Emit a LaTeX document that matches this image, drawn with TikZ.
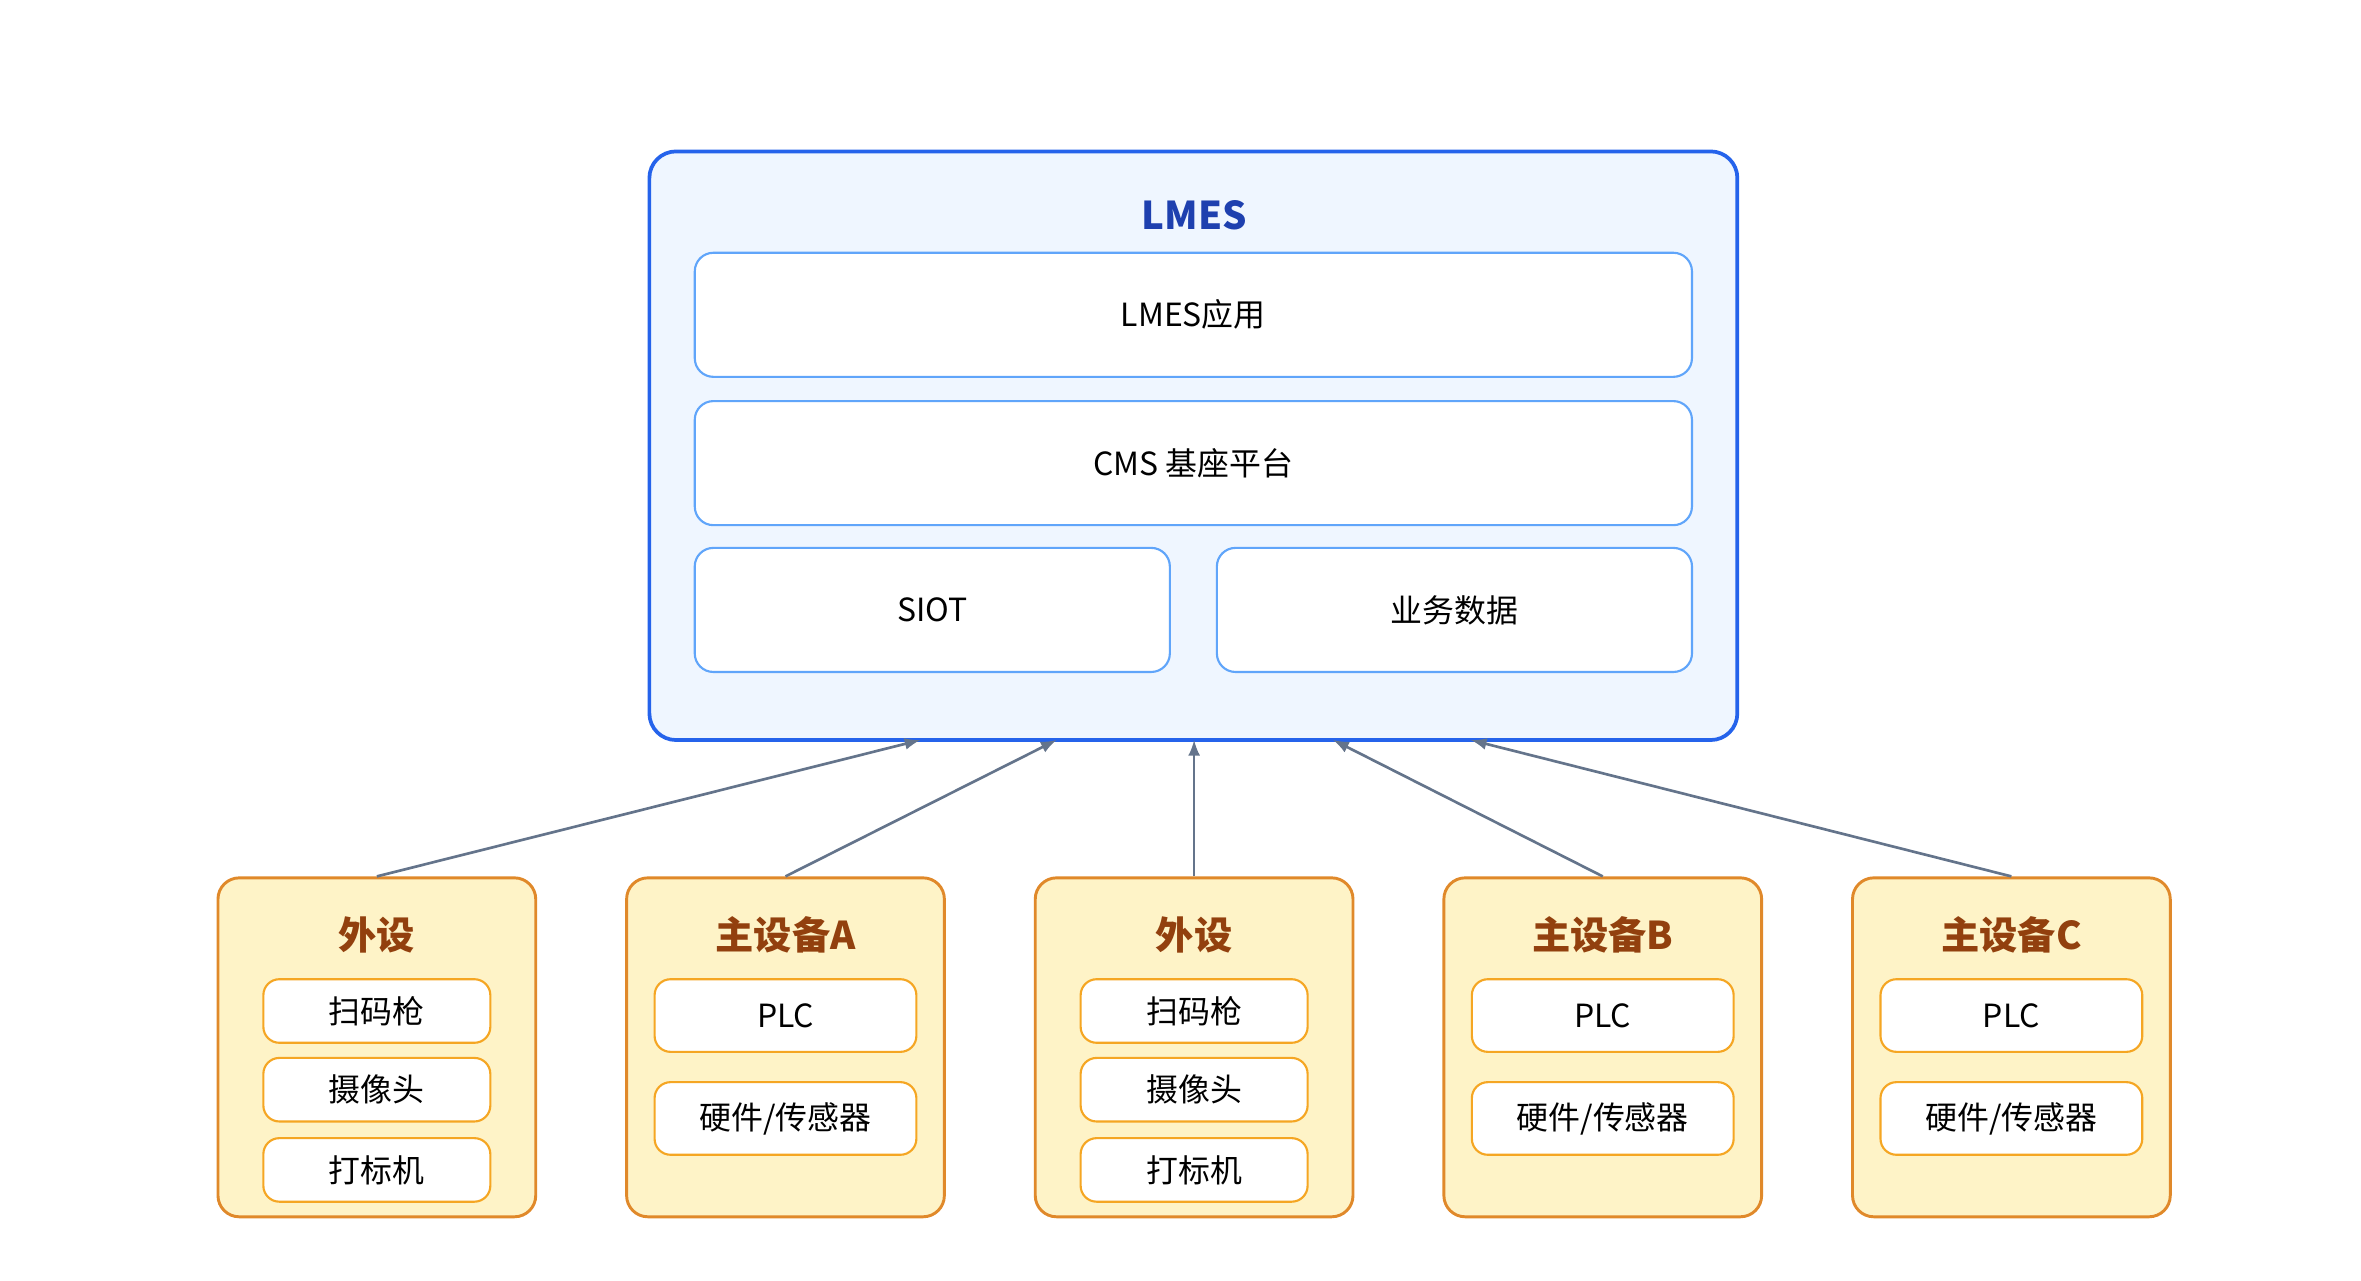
\documentclass[tikz,border=0pt]{standalone}
\usepackage{fontspec}
\setmainfont{Noto Sans CJK SC}
\usetikzlibrary{arrows,shapes,positioning,calc}
\definecolor{outerblue}{HTML}{2563EB}
\definecolor{outerfill}{HTML}{EFF6FF}
\definecolor{innerblue}{HTML}{60A5FA}
\definecolor{titleblue}{HTML}{1E40AF}
\definecolor{devborder}{HTML}{E0892A}
\definecolor{devfill}{HTML}{FEF3C7}
\definecolor{devtitle}{HTML}{92400E}
\definecolor{itemborder}{HTML}{F5A623}
\definecolor{arrowgray}{HTML}{64748B}
\tikzset{
  outer/.style={draw=outerblue, line width=1.4pt, fill=outerfill, rounded corners=10pt},
  inner/.style={draw=innerblue, line width=0.8pt, fill=white, rounded corners=7pt, font=\large},
  dev/.style={draw=devborder, line width=1.1pt, fill=devfill, rounded corners=8pt, minimum width=4.2cm, minimum height=4.48cm},
  devtitle/.style={text=devtitle, font=\Large\bfseries},
  item/.style={draw=itemborder, line width=0.8pt, fill=white, rounded corners=6pt, font=\large, minimum width=3cm, minimum height=0.84cm},
  mitem/.style={item, minimum width=3.46cm, minimum height=0.96cm},
  link/.style={draw=arrowgray, line width=1pt, -latex}
}
\begin{document}
\begin{tikzpicture}[x=0.02cm, y=-0.02cm]
\useasboundingbox (0,0) rectangle (1560,846);
%LMES
	\node[outer, minimum width=14.38cm, minimum height=7.78cm] (lmes) at (788.5,294.5) {};
	\node[text=titleblue, font=\Large\bfseries] (lmestitle) at (789,142) {LMES};
	\node[inner, minimum width=13.18cm, minimum height=1.64cm] (app) at (788.5,208) {LMES应用};
	\node[inner, minimum width=13.18cm, minimum height=1.64cm] (cms) at (788.5,306) {CMS 基座平台};
	\node[inner, minimum width=6.28cm, minimum height=1.64cm] (siot) at (616,403) {SIOT};
	\node[inner, minimum width=6.28cm, minimum height=1.64cm] (data) at (961,403) {业务数据};
%devices
	\foreach \x/\name in {249/p1, 789/p2}{
		\node[dev] (\name) at (\x,692) {};
		\node[devtitle] at (\x,618) {外设};
		\node[item] (\name a) at (\x,668) {扫码枪};
		\node[item] (\name b) at (\x,720) {摄像头};
		\node[item] (\name c) at (\x,773) {打标机};
	}
	\foreach \x/\name/\lbl in {519/mA/A, 1059/mB/B, 1329/mC/C}{
		\node[dev] (\name) at (\x,692) {};
		\node[devtitle] at (\x,618) {主设备\lbl};
		\node[mitem] (\name a) at (\x,671) {PLC};
		\node[mitem] (\name b) at (\x,739) {硬件/传感器};
	}
%arrows
	\foreach \x/\name/\src in {608/t1/p1, 698/t2/mA, 789/t3/p2, 881/t4/mB, 972/t5/mC}{
		\coordinate (\name) at (\x,489);
		\draw[link] (\src.north) -- (\name);
	}
\end{tikzpicture}
\end{document}
